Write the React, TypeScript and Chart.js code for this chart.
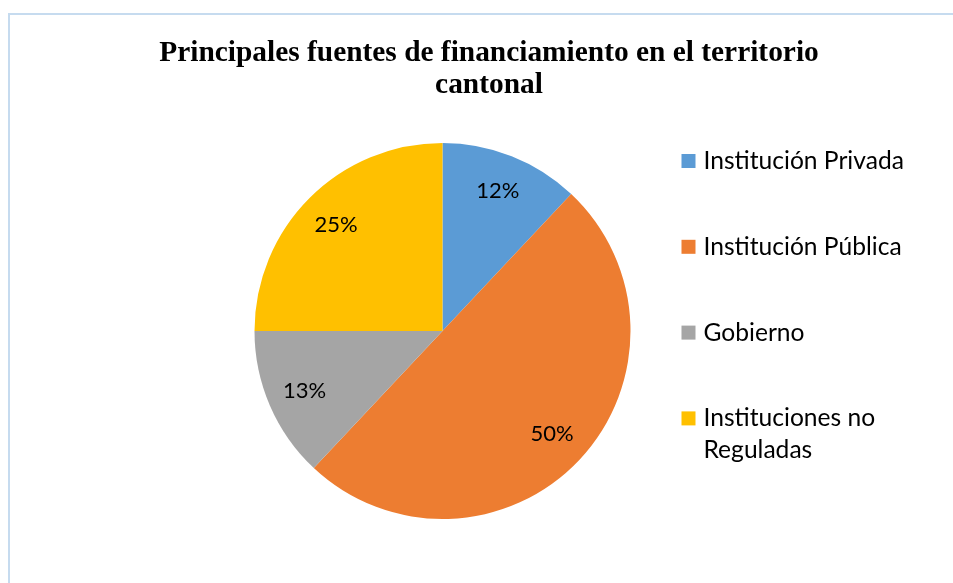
import React, { useEffect, useRef } from "react";
import { Chart, registerables, layouts } from "chart.js";

Chart.register(...registerables);

const TITLE_LINES = ["Principales fuentes de financiamiento en el territorio", "cantonal"];
const CATEGORIES = ["Institución Privada", "Institución Pública", "Gobierno", "Instituciones no Reguladas"];
const LEGEND_LINES = [["Institución Privada"], ["Institución Pública"], ["Gobierno"], ["Instituciones no", "Reguladas"]];
const VALUES = [12, 50, 13, 25];
const COLORS = ["#5B9BD5", "#ED7D31", "#A5A5A5", "#FFC000"];

const SANS = "Lato, 'Liberation Sans', sans-serif";
const SERIF = "'Liberation Serif', 'Times New Roman', serif";

// Empty box on the right so the pie sits left of the centred title, as in the original
const rightSpacer = {
  id: "rightSpacer",
  beforeInit(chart: any) {
    const box: any = {
      position: "right",
      weight: 0,
      fullSize: false,
      options: {},
      left: 0, top: 0, right: 0, bottom: 0, width: 0, height: 0,
      isHorizontal() { return false; },
      update(_maxWidth: number, maxHeight: number) {
        this.width = 93;
        this.height = maxHeight;
      },
      draw() {},
    };
    layouts.addBox(chart, box);
  },
};

const sliceLabels = {
  id: "sliceLabels",
  afterDatasetsDraw(chart: any) {
    const ctx = chart.ctx;
    const meta = chart.getDatasetMeta(0);
    const values = chart.data.datasets[0].data as number[];
    ctx.save();
    ctx.font = `22px ${SANS}`;
    ctx.fillStyle = "#000";
    ctx.textAlign = "center";
    ctx.textBaseline = "middle";
    meta.data.forEach((arc: any, i: number) => {
      const mid = (arc.startAngle + arc.endAngle) / 2;
      const r = arc.outerRadius * 0.8;
      ctx.fillText(`${values[i]}%`, arc.x + Math.cos(mid) * r, arc.y + Math.sin(mid) * r);
    });
    ctx.restore();
  },
};

const sideLegend = {
  id: "sideLegend",
  afterDraw(chart: any) {
    const ctx = chart.ctx;
    const meta = chart.getDatasetMeta(0);
    const arc0: any = meta.data[0];
    const colors = chart.data.datasets[0].backgroundColor as string[];
    const x0 = arc0.x + arc0.outerRadius + 51;
    const firstBase = arc0.y - 162;
    const step = 85.8;
    const lineGap = 32;
    ctx.save();
    ctx.font = `24.6px ${SANS}`;
    ctx.textAlign = "left";
    ctx.textBaseline = "alphabetic";
    LEGEND_LINES.forEach((lines, i) => {
      const base = firstBase + i * step;
      ctx.fillStyle = colors[i];
      ctx.fillRect(x0, base - 15, 14, 14);
      ctx.fillStyle = "#000";
      lines.forEach((t, j) => ctx.fillText(t, x0 + 22, base + j * lineGap));
    });
    ctx.restore();
  },
};

export default function App() {
  const ref = useRef<HTMLCanvasElement>(null);
  useEffect(() => {
    const chart = new Chart(ref.current as HTMLCanvasElement, {
      type: "pie",
      data: {
        labels: CATEGORIES,
        datasets: [{ data: VALUES, backgroundColor: COLORS, borderWidth: 0 }],
      },
      options: {
        responsive: false,
        maintainAspectRatio: false,
        animation: false,
        events: [],
        layout: { padding: { left: 30, right: 5, top: 0, bottom: 64 } },
        plugins: {
          legend: { display: false },
          tooltip: { enabled: false },
          title: {
            display: true,
            text: TITLE_LINES,
            color: "#000",
            font: { family: SERIF, size: 29.4, weight: "bold", lineHeight: 1.08 },
            padding: { top: 38, bottom: 41.5 },
          },
        },
      } as any,
      plugins: [rightSpacer, sliceLabels, sideLegend],
    });
    return () => chart.destroy();
  }, []);

  return (
    <div style={{ position: "absolute", left: 0, top: 0, width: 953, height: 583, background: "#fff", overflow: "hidden" }}>
      <div
        style={{
          position: "absolute",
          left: 8,
          top: 13,
          width: 960,
          height: 600,
          borderTop: "2px solid #C6DBEF",
          borderLeft: "2px solid #C6DBEF",
        }}
      />
      <canvas ref={ref} width={953} height={583} style={{ position: "absolute", left: 0, top: 0, width: 953, height: 583 }} />
    </div>
  );
}
